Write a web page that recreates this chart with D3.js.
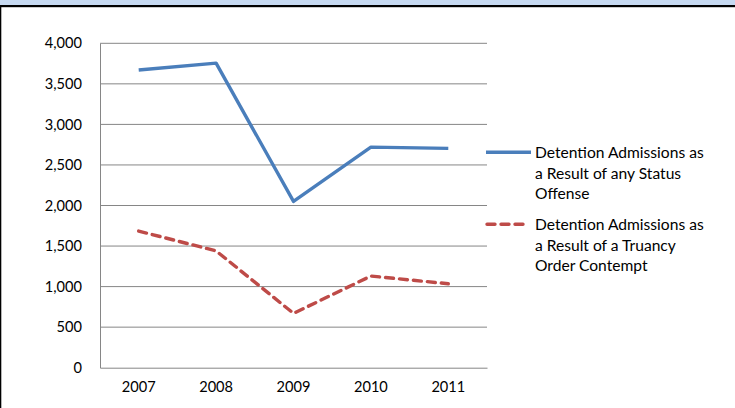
<!DOCTYPE html>
<html>
<head>
<meta charset="utf-8">
<script src="https://cdn.jsdelivr.net/npm/d3@7"></script>
<style>
  html, body { margin: 0; padding: 0; background: #fff; }
  svg { display: block; }
  text { font-family: Lato, "Open Sans", sans-serif; fill: #000; }
</style>
</head>
<body>
<svg id="chart" width="735" height="408"></svg>
<script>
// Years and admission counts per series
const years = ["2007", "2008", "2009", "2010", "2011"];
const statusOffense = [3670, 3755, 2050, 2720, 2705];
const truancyContempt = [1685, 1440, 670, 1130, 1035];
const yTicks = [0, 500, 1000, 1500, 2000, 2500, 3000, 3500, 4000];
const seriesNames = [
  ["Detention Admissions as", "a Result of any Status", "Offense"],
  ["Detention Admissions as", "a Result of a Truancy", "Order Contempt"]
];
const seriesColors = ["#4a7ebb", "#be4b48"];

const svg = d3.select("#chart");
const W = 735, H = 408;

// Page frame: light band and black rule along the top, rule at the left
svg.append("rect").attr("x", 0).attr("y", 0).attr("width", W).attr("height", 5).attr("fill", "#c6d9f1");
svg.append("rect").attr("x", 0).attr("y", 5).attr("width", W).attr("height", 2.2).attr("fill", "#000");
svg.append("rect").attr("x", 0).attr("y", 5).attr("width", 1.3).attr("height", H).attr("fill", "#000");

const plot = { left: 100, right: 487, top: 43.3, bottom: 367.7 };

const x = d3.scaleBand().domain(years).range([plot.left, plot.right]).padding(0);
const y = d3.scaleLinear().domain([0, 4000]).range([plot.bottom, plot.top]);
const cx = d => x(d) + x.bandwidth() / 2;

// Horizontal gridlines
svg.append("g")
  .selectAll("line")
  .data(yTicks.filter(t => t > 0))
  .join("line")
  .attr("x1", plot.left).attr("x2", plot.right)
  .attr("y1", d => y(d)).attr("y2", d => y(d))
  .attr("stroke", "#868686").attr("stroke-width", 1);

// Y axis
const yAxis = svg.append("g")
  .attr("transform", `translate(${plot.left},0)`)
  .call(d3.axisLeft(y).tickValues(yTicks).tickSize(0).tickPadding(18).tickFormat(d3.format(",")));
yAxis.select(".domain").attr("stroke", "#868686");
yAxis.selectAll("text").style("font-size", "14.6px").style("font-family", "Lato, sans-serif");

// X axis
const xAxis = svg.append("g")
  .attr("transform", `translate(0,${plot.bottom})`)
  .call(d3.axisBottom(x).tickSize(0).tickPadding(14));
xAxis.select(".domain").attr("stroke", "#868686");
xAxis.selectAll("text").style("font-size", "14.6px").style("font-family", "Lato, sans-serif");

const line = d3.line().x((d, i) => cx(years[i])).y(d => y(d));

// Status offense series (solid)
svg.append("path")
  .datum(statusOffense)
  .attr("d", line)
  .attr("fill", "none")
  .attr("stroke", seriesColors[0])
  .attr("stroke-width", 3.4)
  .attr("stroke-linejoin", "round");

// Truancy contempt series (dashed)
svg.append("path")
  .datum(truancyContempt)
  .attr("d", line)
  .attr("fill", "none")
  .attr("stroke", seriesColors[1])
  .attr("stroke-width", 3.4)
  .attr("stroke-dasharray", "8,6")
  .attr("stroke-linecap", "round")
  .attr("stroke-linejoin", "round");

// Legend
const legend = svg.append("g");
const legendRows = [152.3, 224.3];
seriesNames.forEach((lines, i) => {
  const ly = legendRows[i];
  legend.append("line")
    .attr("x1", i === 0 ? 486 : 487).attr("x2", i === 0 ? 531 : 525)
    .attr("y1", ly).attr("y2", ly)
    .attr("stroke", seriesColors[i])
    .attr("stroke-width", 3.4)
    .attr("stroke-dasharray", i === 0 ? null : "8,6")
    .attr("stroke-linecap", i === 0 ? "butt" : "round");
  lines.forEach((t, j) => {
    legend.append("text")
      .attr("x", 535)
      .attr("y", ly + j * 20.8)
      .attr("dy", "0.35em")
      .style("font-size", "15.6px")
      .text(t);
  });
});
</script>
</body>
</html>
